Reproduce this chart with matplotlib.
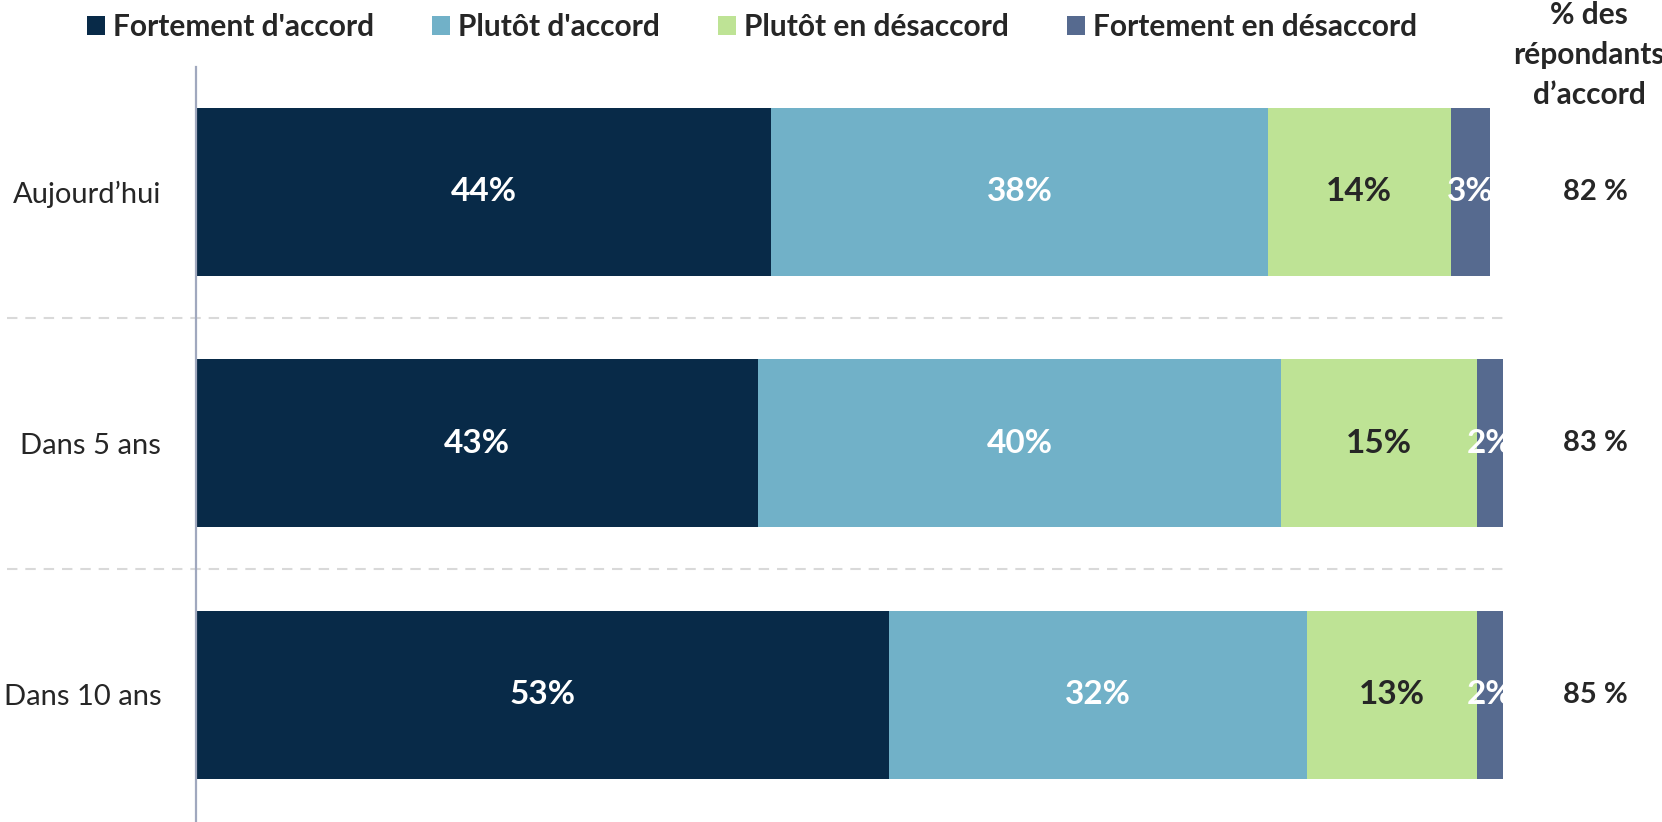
import matplotlib.pyplot as plt
from matplotlib.patches import Patch

plt.rcParams['font.family'] = ['Lato', 'DejaVu Sans']

periods = ["Aujourd\u2019hui", "Dans 5 ans", "Dans 10 ans"]
series = ["Fortement d'accord", "Plutôt d'accord", "Plutôt en désaccord", "Fortement en désaccord"]
fortement_accord = [44, 43, 53]
plutot_accord = [38, 40, 32]
plutot_desaccord = [14, 15, 13]
fortement_desaccord = [3, 2, 2]
total_accord = [82, 83, 85]

colors = ["#082A48", "#71B1C8", "#BEE395", "#566A8F"]
label_colors = ["white", "white", "#262626", "white"]
dark = "#262626"

fig = plt.figure(figsize=(16.62, 8.22), dpi=100)
ax = fig.add_axes([196 / 1662, 0.0, 1307 / 1662, 1 - 67 / 822])

ypos = list(range(len(periods)))
left = [0] * len(periods)
for vals, col, tcol in zip([fortement_accord, plutot_accord, plutot_desaccord, fortement_desaccord],
                           colors, label_colors):
    bars = ax.barh(ypos, vals, left=left, height=0.668, color=col, edgecolor="none")
    for b, v in zip(bars, vals):
        ax.text(b.get_x() + b.get_width() / 2, b.get_y() + b.get_height() / 2, f"{v}%",
                ha="center", va="center", color=tcol, fontsize=24, fontweight="bold",
                clip_on=True)
    left = [l + v for l, v in zip(left, vals)]

ax.set_xlim(0, 100)
ax.set_ylim(2.505, -0.497)

# dashed separators between the rows
for y in [0.5, 1.5]:
    ax.axhline(y, xmin=(7 - 196) / 1307, xmax=1.0, color="#D9D9D9", lw=1.5,
               dashes=(5, 3.8), clip_on=False, zorder=0)

for s in ["top", "right", "bottom"]:
    ax.spines[s].set_visible(False)
ax.spines["left"].set_color("#A0A8BE")
ax.spines["left"].set_linewidth(1.6)
ax.set_xticks([])
ax.set_yticks(ypos)
ax.set_yticklabels(periods, fontsize=21, color=dark)
ax.tick_params(axis="y", length=0, pad=25)

# agreement totals on the right
trans = ax.get_yaxis_transform()
for y, t in zip(ypos, total_accord):
    ax.text(1.071, y, f"{t} %", transform=trans, ha="center", va="center",
            fontsize=21, fontweight="bold", color=dark, clip_on=False)

fig.text(1589 / 1662, 1 - 55 / 822, "% des\nrépondants\nd\u2019accord", ha="center", va="center",
         fontsize=21.5, fontweight="bold", color=dark, linespacing=1.5)

handles = [Patch(facecolor=c, edgecolor="none") for c in colors]
fig.legend(handles, series, loc="center left", bbox_to_anchor=(87 / 1662, 1 - 27 / 822),
           ncol=4, frameon=False, handlelength=0.6, handleheight=0.6, handletextpad=0.27,
           columnspacing=1.94, borderaxespad=0, borderpad=0,
           prop={"size": 21.5, "weight": "bold"}, labelcolor=dark)

fig.savefig("out.png", dpi=100)
